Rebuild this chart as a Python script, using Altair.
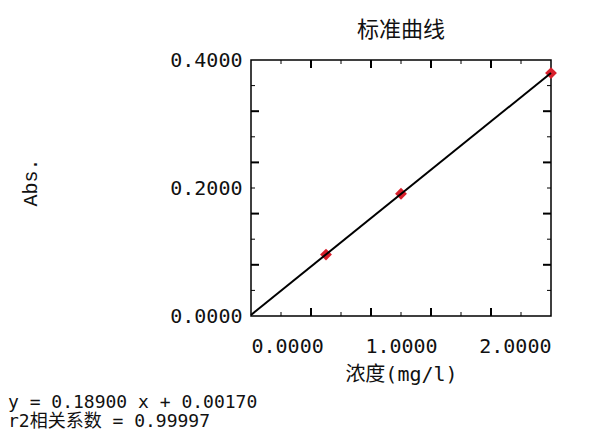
import altair as alt
import pandas as pd

# data
conc = [0.5, 1.0, 2.0]
absorb = [0.0960, 0.1910, 0.3795]
fit_x = [0.0, 2.0]
fit_y = [0.0017, 0.3797]
x_labels = [0.0, 1.0, 2.0]
y_labels = [0.0, 0.2, 0.4]
x_minor = [0.2, 0.6, 1.0, 1.4, 1.8]
x_major = [0.4, 0.8, 1.2, 1.6]
y_minor = [0.04, 0.12, 0.20, 0.28, 0.36]
y_major = [0.08, 0.16, 0.24, 0.32]
title_text = "标准曲线"
x_title = "浓度(mg/l)"
y_title = "Abs."
eq_line = "y = 0.18900 x + 0.00170"
r2_line = "r2相关系数 = 0.99997"

W, H = 300, 256
MONO = "DejaVu Sans Mono, Noto Sans CJK SC"
CJK = "Noto Sans CJK SC"

xs = alt.Scale(domain=[0, 2], nice=False, zero=False)
ys = alt.Scale(domain=[0, 0.4], nice=False, zero=False)

pts_df = pd.DataFrame({"x": conc, "y": absorb})
fit_df = pd.DataFrame({"x": fit_x, "y": fit_y})

x_axis = alt.Axis(values=x_labels, format=".4f", ticks=False, tickSize=0, domain=False,
                  grid=False, labelFont=MONO, labelFontSize=20, labelColor="#111",
                  labelPadding=20, title=x_title, titleFont=MONO, titleFontSize=20,
                  titleFontWeight="normal", titleColor="#111", titleX=150, titleY=58,
                  titleAlign="center", titleBaseline="middle")
y_axis = alt.Axis(values=y_labels, format=".4f", ticks=False, tickSize=0, domain=False,
                  grid=False, labelFont=MONO, labelFontSize=20, labelColor="#111",
                  labelPadding=9, title=y_title, titleFont="Liberation Mono", titleFontSize=20,
                  titleFontWeight="normal", titleColor="#111", titleX=-221, titleY=122,
                  titleAlign="center", titleBaseline="middle", titleAngle=270)

points = alt.Chart(pts_df).mark_point(shape="diamond", filled=True, size=140,
                                      color="#d8202c", opacity=1).encode(
    x=alt.X("x:Q", scale=xs, axis=x_axis),
    y=alt.Y("y:Q", scale=ys, axis=y_axis),
)

fit = alt.Chart(fit_df).mark_line(color="#000", strokeWidth=2).encode(
    x=alt.X("x:Q", scale=xs, axis=x_axis),
    y=alt.Y("y:Q", scale=ys, axis=y_axis),
)

layers = [points, fit]

def xticks(vals, L, sw):
    df = pd.DataFrame({"x": vals})
    bot = alt.Chart(df).mark_rule(color="#000", strokeWidth=sw).encode(
        x=alt.X("x:Q", scale=xs, axis=x_axis), y=alt.value(H), y2=alt.value(H - L))
    top = alt.Chart(df).mark_rule(color="#000", strokeWidth=sw).encode(
        x=alt.X("x:Q", scale=xs, axis=x_axis), y=alt.value(0), y2=alt.value(L))
    return [bot, top]

def yticks(vals, L, sw):
    df = pd.DataFrame({"y": vals})
    left = alt.Chart(df).mark_rule(color="#000", strokeWidth=sw).encode(
        y=alt.Y("y:Q", scale=ys, axis=y_axis), x=alt.value(0), x2=alt.value(L))
    right = alt.Chart(df).mark_rule(color="#000", strokeWidth=sw).encode(
        y=alt.Y("y:Q", scale=ys, axis=y_axis), x=alt.value(W), x2=alt.value(W - L))
    return [left, right]

layers += xticks(x_minor, 4, 1) + xticks(x_major, 8, 2)
layers += yticks(y_minor, 4, 1) + yticks(y_major, 8, 2)

title = alt.Chart(pd.DataFrame({"t": [title_text]})).mark_text(
    font=CJK, fontSize=22, color="#111", align="center", baseline="middle").encode(
    text="t:N", x=alt.value(W / 2), y=alt.value(-30))

eq = alt.Chart(pd.DataFrame({"t": [eq_line]})).mark_text(
    font=MONO, fontSize=18, color="#111", align="left", baseline="middle").encode(
    text="t:N", x=alt.value(-243), y=alt.value(343))

r2 = alt.Chart(pd.DataFrame({"t": [r2_line]})).mark_text(
    font=MONO, fontSize=18, color="#111", align="left", baseline="middle").encode(
    text="t:N", x=alt.value(-243), y=alt.value(362))

layers += [title, eq, r2]

chart = alt.layer(*layers).properties(
    width=W, height=H,
    autosize=alt.AutoSizeParams(type="none"),
    padding={"left": 243, "top": 52, "right": 39, "bottom": 116},
).configure(background="white").configure_view(stroke="#000", strokeWidth=1.5)

chart.save("out.html", embed_options={"renderer": "svg", "actions": False})
